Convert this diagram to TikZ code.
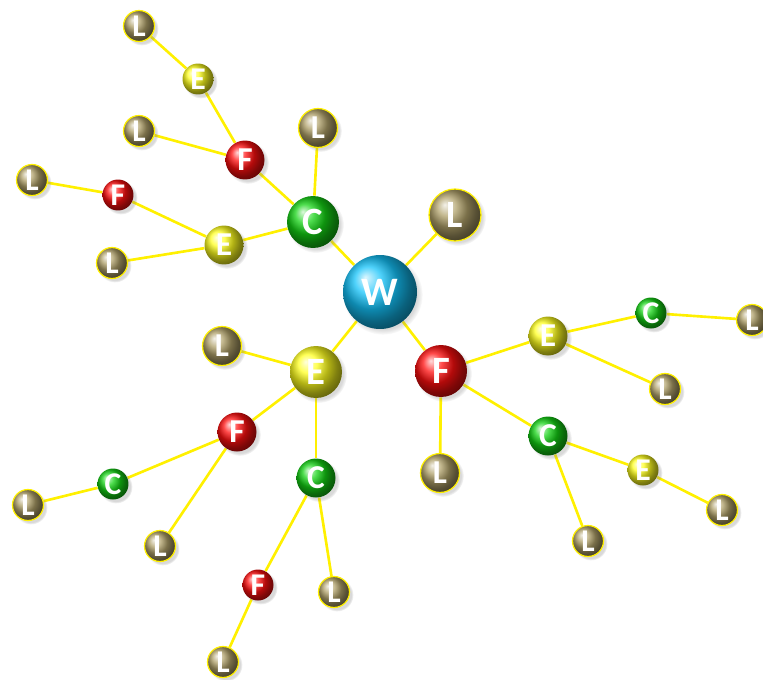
\documentclass[tikz,border=0pt]{standalone}
\usepackage{fontspec}
\setmainfont{Carlito}
\usetikzlibrary{shadows, backgrounds}

\definecolor{wblue}{RGB}{20,195,250}
\definecolor{cgreen}{RGB}{20,210,20}
\definecolor{eyellow}{RGB}{255,255,30}
\definecolor{fred}{RGB}{255,15,15}
\definecolor{lolive}{RGB}{175,160,105}
\definecolor{linkyellow}{RGB}{255,240,0}

\begin{document}
\begin{tikzpicture}[
    x=0.02cm, y=-0.02cm, % one unit = one pixel of the sketch
    ball/.style={circle, inner sep=0pt, text=white,
        circular drop shadow={shadow xshift=1.5pt, shadow yshift=-1.5pt, shadow scale=1.08, opacity=0.3}},
    huge/.style={ball, minimum size=1.48cm, font=\fontsize{23}{23}\selectfont\bfseries},
    big/.style={ball, minimum size=1.04cm, font=\fontsize{22}{22}\selectfont\bfseries},
    mid/.style={ball, minimum size=0.78cm, font=\fontsize{19}{19}\selectfont\bfseries},
    small/.style={ball, minimum size=0.62cm, font=\fontsize{18}{18}\selectfont\bfseries},
    wnode/.style={ball color=wblue},
    cnode/.style={ball color=cgreen},
    enode/.style={ball color=eyellow},
    fnode/.style={ball color=fred},
    lnode/.style={ball color=lolive, draw=linkyellow, line width=0.7pt},
    link/.style={draw=linkyellow, line width=1.5pt}
]
    \useasboundingbox (0,0) rectangle (763,679);

    % centre and first ring
    \node[huge, wnode] (w) at (380,292) {W};
    \node[big, lnode] (l1) at (455,215) {L};
    \node[big, cnode] (c1) at (313,222) {C};
    \node[big, enode] (e1) at (316,372) {E};
    \node[big, fnode] (f1) at (441,371) {F};

    % branch of C
    \node[mid, lnode] (c1l) at (318,128) {L};
    \node[mid, fnode] (c1f) at (245,160) {F};
    \node[mid, enode] (c1e) at (224,245) {E};
    \node[small, lnode] (c1fl) at (139,131) {L};
    \node[small, enode] (c1fe) at (198,79) {E};
    \node[small, lnode] (c1fel) at (139,26) {L};
    \node[small, fnode] (c1ef) at (118,195) {F};
    \node[small, lnode] (c1el) at (112,263) {L};
    \node[small, lnode] (c1efl) at (32,180) {L};

    % branch of E
    \node[mid, lnode] (e1l) at (222,346) {L};
    \node[mid, fnode] (e1f) at (237,432) {F};
    \node[mid, cnode] (e1c) at (316,478) {C};
    \node[small, cnode] (e1fc) at (113,484) {C};
    \node[small, lnode] (e1fl) at (160,546) {L};
    \node[small, lnode] (e1fcl) at (28,505) {L};
    \node[small, fnode] (e1cf) at (258,585) {F};
    \node[small, lnode] (e1cl) at (334,592) {L};
    \node[small, lnode] (e1cfl) at (223,662) {L};

    % branch of F
    \node[mid, enode] (f1e) at (548,336) {E};
    \node[mid, lnode] (f1l) at (440,473) {L};
    \node[mid, cnode] (f1c) at (548,436) {C};
    \node[small, cnode] (f1ec) at (651,313) {C};
    \node[small, lnode] (f1el) at (665,389) {L};
    \node[small, lnode] (f1ecl) at (752,320) {L};
    \node[small, enode] (f1ce) at (643,470) {E};
    \node[small, lnode] (f1cl) at (588,541) {L};
    \node[small, lnode] (f1cel) at (722,510) {L};

    % links behind the balls
    \begin{scope}[on background layer]
        \foreach \a/\b in {w/l1, w/c1, w/e1, w/f1,
                c1/c1l, c1/c1f, c1/c1e, c1f/c1fl, c1f/c1fe, c1fe/c1fel,
                c1e/c1ef, c1e/c1el, c1ef/c1efl,
                e1/e1l, e1/e1f, e1/e1c, e1f/e1fc, e1f/e1fl, e1fc/e1fcl,
                e1c/e1cf, e1c/e1cl, e1cf/e1cfl,
                f1/f1e, f1/f1l, f1/f1c, f1e/f1ec, f1e/f1el, f1ec/f1ecl,
                f1c/f1ce, f1c/f1cl, f1ce/f1cel}
            \draw[link] (\a) -- (\b);
    \end{scope}
\end{tikzpicture}
\end{document}
